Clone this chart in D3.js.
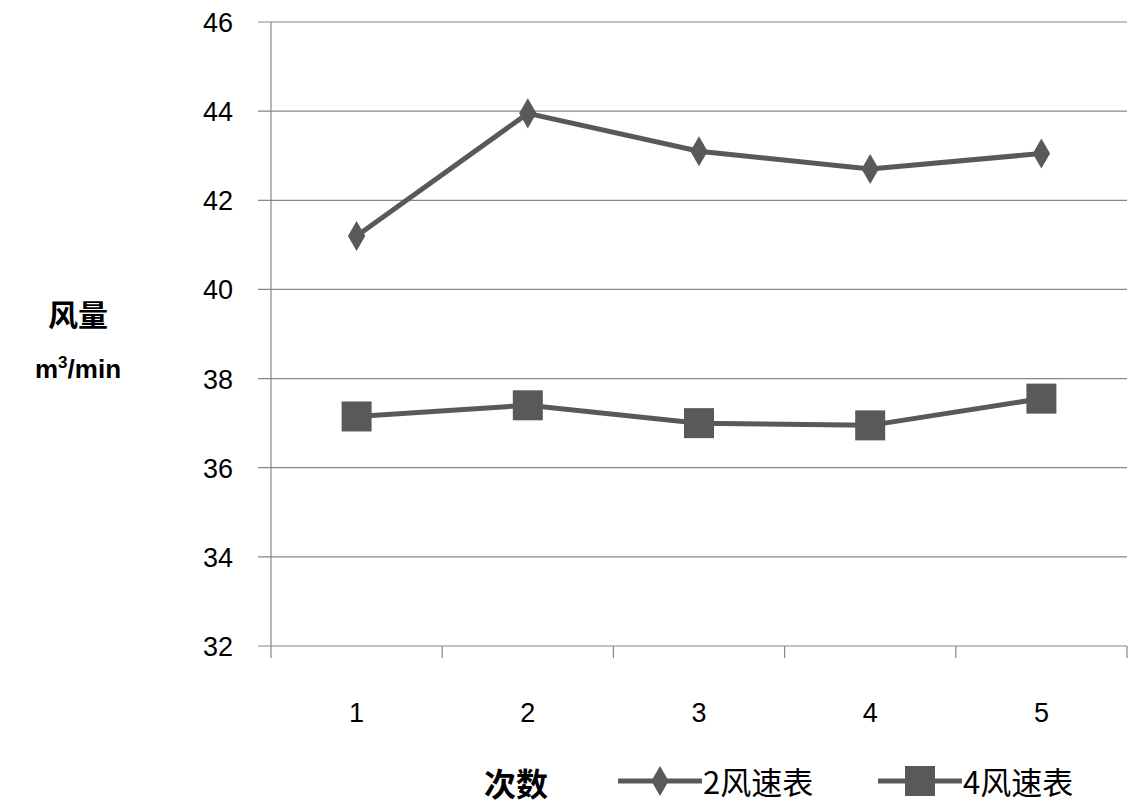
<!DOCTYPE html>
<html><head><meta charset="utf-8">
<script src="https://cdn.jsdelivr.net/npm/d3@7"></script>
<style>body{margin:0;background:#fff}</style>
</head><body>
<script>
"use strict"

var categories = ["1", "2", "3", "4", "5"];
var seriesNames = ["2风速表", "4风速表"];
var series2 = [41.2, 43.95, 43.1, 42.7, 43.05];
var series4 = [37.15, 37.4, 37.0, 36.95, 37.55];
var yTicks = [32, 34, 36, 38, 40, 42, 44, 46];

var plotLeft = 271, plotRight = 1127, plotTop = 22, plotBottom = 646;
var color = "#595959";
var font = "'Liberation Sans', Arial, sans-serif";
var cjk = "'Noto Sans CJK SC', sans-serif";

var svg = d3.select("body").append("svg")
    .attr("width", 1132).attr("height", 806);

var x = d3.scaleBand().domain(categories).range([plotLeft, plotRight]);
var y = d3.scaleLinear().domain([32, 46]).range([plotBottom, plotTop]);

// gridlines + y labels
svg.selectAll(".grid").data(yTicks).enter().append("line")
    .attr("x1", 258).attr("x2", plotRight)
    .attr("y1", d => y(d)).attr("y2", d => y(d))
    .attr("stroke", "#868686").attr("stroke-width", 1.2);
svg.selectAll(".yl").data(yTicks).enter().append("text")
    .attr("x", 233).attr("y", d => y(d) + 10)
    .attr("text-anchor", "end").attr("font-size", "27px")
    .attr("font-family", font).attr("fill", "#000").text(d => d);

// axes
svg.append("line").attr("x1", plotLeft).attr("x2", plotLeft).attr("y1", plotTop).attr("y2", plotBottom + 12)
    .attr("stroke", "#868686").attr("stroke-width", 1.2);
var bounds = categories.map(c => x(c) + x.bandwidth());
svg.selectAll(".xt").data(bounds).enter().append("line")
    .attr("x1", d => d).attr("x2", d => d).attr("y1", plotBottom).attr("y2", plotBottom + 12)
    .attr("stroke", "#868686").attr("stroke-width", 1.2);
svg.selectAll(".xl").data(categories).enter().append("text")
    .attr("x", d => x(d) + x.bandwidth() / 2).attr("y", 722)
    .attr("text-anchor", "middle").attr("font-size", "27px")
    .attr("font-family", font).text(d => d);

// lines
var line = d3.line().x((d, i) => x(categories[i]) + x.bandwidth() / 2).y(d => y(d));
[series2, series4].forEach(function(s) {
    svg.append("path").attr("d", line(s)).attr("fill", "none")
        .attr("stroke", color).attr("stroke-width", 5);
});
svg.selectAll(".dia").data(series2).enter().append("path")
    .attr("d", d3.symbol(d3.symbolDiamond, 260))
    .attr("transform", (d, i) => "translate(" + (x(categories[i]) + x.bandwidth() / 2) + "," + y(d) + ")")
    .attr("fill", color);
svg.selectAll(".sq").data(series4).enter().append("rect")
    .attr("x", (d, i) => x(categories[i]) + x.bandwidth() / 2 - 15)
    .attr("y", d => y(d) - 15).attr("width", 30).attr("height", 30)
    .attr("fill", color);

// axis titles
svg.append("text").attr("x", 78).attr("y", 326).attr("text-anchor", "middle")
    .attr("font-size", "30px").attr("font-weight", "bold").attr("font-family", cjk).text("风量");
var t = svg.append("text").attr("x", 78).attr("y", 378).attr("text-anchor", "middle")
    .attr("font-size", "26px").attr("font-weight", "bold").attr("font-family", font);
t.append("tspan").text("m");
t.append("tspan").attr("font-size", "17px").attr("dy", -10).text("3");
t.append("tspan").attr("dy", 10).text("/min");
svg.append("text").attr("x", 516).attr("y", 796).attr("text-anchor", "middle")
    .attr("font-size", "32px").attr("font-weight", "bold").attr("font-family", cjk).text("次数");

// legend
var lg = [{x: 618, name: seriesNames[0], shape: "d"}, {x: 878, name: seriesNames[1], shape: "s"}];
lg.forEach(function(l) {
    svg.append("line").attr("x1", l.x).attr("x2", l.x + 84).attr("y1", 781).attr("y2", 781)
        .attr("stroke", color).attr("stroke-width", 5);
    if (l.shape == "d") {
        svg.append("path").attr("d", d3.symbol(d3.symbolDiamond, 260))
            .attr("transform", "translate(" + (l.x + 42) + ",781)").attr("fill", color);
    } else {
        svg.append("rect").attr("x", l.x + 27).attr("y", 766).attr("width", 30).attr("height", 30).attr("fill", color);
    }
    svg.append("text").attr("x", l.x + 85).attr("y", 794).attr("font-size", "31px")
        .attr("font-family", cjk).text(l.name);
});
</script>
</body></html>
